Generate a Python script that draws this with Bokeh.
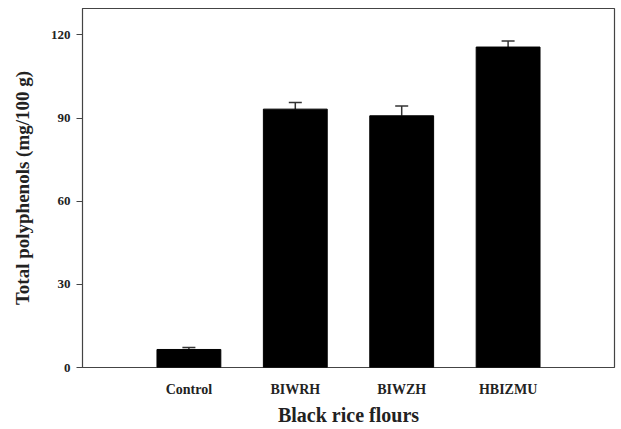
from bokeh.plotting import figure
from bokeh.models import FactorRange, Range1d, ColumnDataSource, Whisker, TeeHead, FixedTicker
from bokeh.embed import file_html
from bokeh.resources import INLINE

categories = ["Control", "BIWRH", "BIWZH", "HBIZMU"]
polyphenols = [6.5, 93.2, 90.8, 115.6]
errors = [0.7, 2.4, 3.5, 2.2]
y_ticks = [0, 30, 60, 90, 120]

upper = [v + e for v, e in zip(polyphenols, errors)]
src = ColumnDataSource(data=dict(cat=categories, val=polyphenols, upper=upper))

FONT = "Liberation Serif"

p = figure(
    width=616, height=428,
    x_range=FactorRange(factors=categories, range_padding=0.25, range_padding_units="percent"),
    y_range=Range1d(0, 129.5),
    output_backend="svg", toolbar_location=None,
    min_border_left=82, min_border_right=2, min_border_top=8, min_border_bottom=50,
)

p.vbar(x="cat", top="val", width=0.6, source=src, fill_color="black", line_color="black")

w = Whisker(base="cat", lower="val", upper="upper", source=src,
            line_color="#333333", line_width=1.5,
            upper_head=TeeHead(size=13, line_color="#333333", line_width=1.5),
            lower_head=None)
p.add_layout(w)

p.xgrid.visible = False
p.ygrid.visible = False
p.outline_line_color = "#444444"
p.outline_line_width = 1.2

p.yaxis.ticker = FixedTicker(ticks=y_ticks)
p.yaxis.minor_tick_line_color = None
p.yaxis.major_tick_out = 6
p.yaxis.major_tick_in = 0
p.yaxis.axis_line_color = "#444444"
p.yaxis.major_tick_line_color = "#444444"
p.yaxis.major_label_standoff = 6
p.yaxis.major_label_text_font = FONT
p.yaxis.major_label_text_font_style = "bold"
p.yaxis.major_label_text_font_size = "13px"
p.yaxis.major_label_text_color = "#222222"
p.yaxis.axis_label = "Total polyphenols (mg/100 g)"
p.yaxis.axis_label_text_font = FONT
p.yaxis.axis_label_text_font_style = "bold"
p.yaxis.axis_label_text_font_size = "19px"
p.yaxis.axis_label_text_color = "#222222"
p.yaxis.axis_label_standoff = 15

p.xaxis.axis_line_color = None
p.xaxis.major_tick_line_color = None
p.xaxis.minor_tick_line_color = None
p.xaxis.major_label_standoff = 8
p.xaxis.major_label_text_font = FONT
p.xaxis.major_label_text_font_style = "bold"
p.xaxis.major_label_text_font_size = "14px"
p.xaxis.major_label_text_color = "#222222"
p.xaxis.axis_label = "Black rice flours"
p.xaxis.axis_label_text_font = FONT
p.xaxis.axis_label_text_font_style = "bold"
p.xaxis.axis_label_text_font_size = "20px"
p.xaxis.axis_label_text_color = "#222222"
p.xaxis.axis_label_standoff = 4

open("out.html", "w").write(file_html(p, INLINE))
